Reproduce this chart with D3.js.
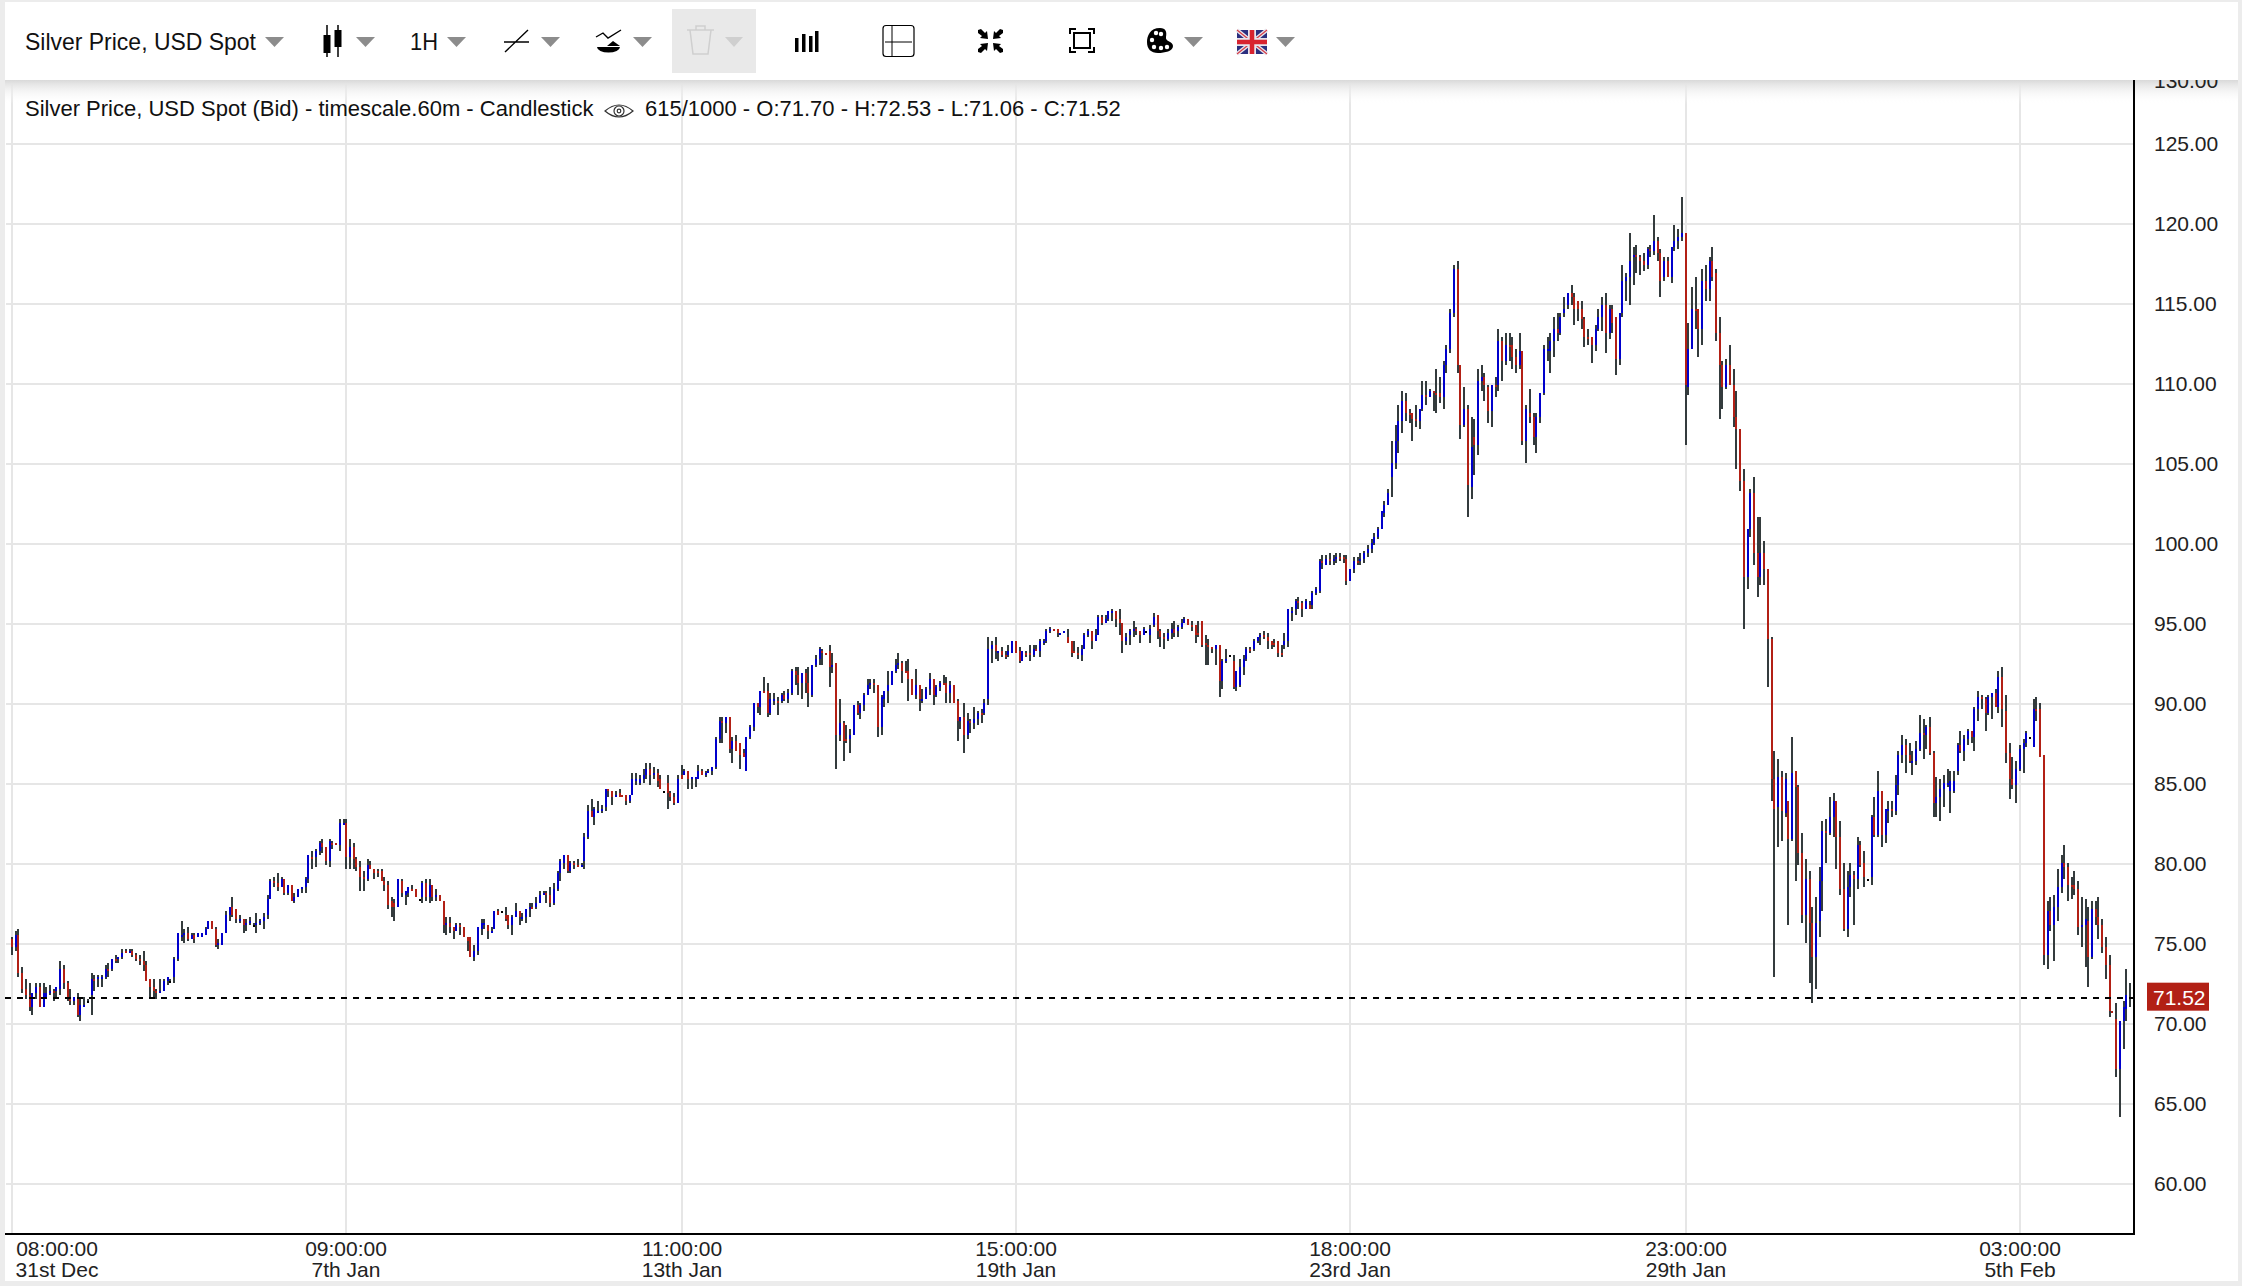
<!DOCTYPE html>
<html>
<head>
<meta charset="utf-8">
<title>Silver Price, USD Spot</title>
<script src="https://cdn.jsdelivr.net/npm/d3@7"></script>
<style>
  html, body { margin: 0; padding: 0; background: #ececec; }
  svg { display: block; font-family: "Liberation Sans", Arial, sans-serif; }
  .canvas { width: 2242px; height: 1286px; overflow: hidden; }
</style>
</head>
<body>
<div class="canvas"></div>
<script>
// prices, one entry per 60m candle
const opens = [
75.35,74.8,75.55,73.2,72.15,71.8,71.1,71.9,72.3,71.1,
71.7,71.95,72.05,72.05,72.2,73.4,72.55,71.7,71.4,71.65,
70.55,71.15,71.5,71.8,72.8,72.8,72.8,72.9,73.5,73.45,
74.05,74.05,74.2,74.6,74.45,74.55,74.3,74.05,73.9,73.7,
72.8,72.3,72.1,71.95,72.1,72.7,72.75,72.9,74.05,75.45,
75.55,75.65,75.3,75.55,75.45,75.45,75.55,75.95,76.4,75.95,
74.95,74.95,75.65,76.8,77.3,77.15,76.45,76.55,76.2,76.3,
76.25,76.2,76.3,76.4,76.8,77.85,78.9,78.8,78.55,79.05,
78.2,78.65,77.65,77.9,78.4,78.55,79.05,80.4,80.4,80.8,
81.3,81.05,80.15,81.3,81.3,81.15,82.55,82.55,80.4,81.05,
80.3,79.8,79.15,79.1,79.95,79.65,79.55,79.55,78.9,78.65,
77.65,77.55,77.35,78.9,78.05,78.15,78.45,78.4,77.85,77.9,
78.8,77.9,78.65,77.9,78.05,77.65,76.2,76.3,76.05,75.85,
76.2,76.05,75.4,75.4,74.2,74.55,75.9,76.2,76.15,75.75,
75.95,77.1,77,76.8,76.8,76.2,76.7,77.05,76.55,76.65,
77.2,77.3,77.3,77.6,78.05,78.15,78.05,77.55,78.4,79.4,
80.05,80.55,79.55,80.05,79.9,79.8,80.15,81.65,83.3,82.95,
83.2,83.3,83.6,84.65,84.55,84.2,84.4,84.35,84.3,83.9,
84.3,85.25,85.1,85.3,85.6,86,85.6,85.7,85.3,84.6,
85.1,84.45,84.2,83.85,85.5,85.6,85.8,85.35,85.33,85.33,
85.8,85.6,85.75,85.8,86.1,87.8,88.9,88.8,89.15,87.15,
87.65,87.55,86.9,85.85,87.95,88.55,90.05,89.8,90.8,90.8,
89.4,90.15,90.15,90.15,90.55,90.3,90.65,92.05,91.8,91.3,
91.9,91.3,90.55,92.4,92.85,93.35,93.15,93.35,92.35,92.55,
88.05,88.8,87.8,87.8,88.05,89.9,89.4,89.9,90.55,91.15,
91.3,91.15,88.55,90.3,90.8,91.15,92.05,92.4,92.55,92.1,
92.05,91.55,90.55,91.15,90.15,90.3,90.9,91.55,90.55,91.05,
91.3,91.3,90.65,91.15,90.15,88.9,89.15,88.05,88.9,88.8,
89.05,89.4,89.4,90.3,93.4,93.65,93.2,93.3,93.05,93.05,
93.2,93.9,93.3,92.65,93.2,93.15,93.05,93.4,93.3,93.8,
93.9,94.55,94.65,94.65,94.35,94.4,94.15,93.9,93.3,93.2,
93.05,93.4,94.3,94.55,93.9,94.3,95.4,95.05,95.3,95.7,
95.8,95.3,95.05,93.9,94.3,94.55,94.65,94.55,94.3,94.6,
94.3,94.9,95.55,94.55,94.15,94.05,94.4,94.65,94.55,94.8,
95.05,95.3,94.9,94.9,94.4,95.15,93.8,93.65,93.55,93.4,
93.65,91.4,92.65,93.1,92.65,91.05,91.15,92.3,92.8,93.4,
93.4,93.9,94.15,94.3,94.15,93.9,93.8,93.9,93.2,93.65,
93.9,95.7,95.95,96.4,96.3,95.95,96.2,96.15,97,97.1,
99,98.75,99.05,98.95,99.1,99.25,99.2,99.05,97.7,98.4,
99,98.9,99.1,99.4,99.75,100.05,100.5,100.9,102,102.5,
104.2,105,106.5,107.65,109,108.25,108.15,107.8,107.7,108.4,
109.25,109.2,109.5,109.4,109.4,109.15,111.25,112.15,114.4,117.15,
111.25,107.5,108.5,103.55,106.65,106.15,110.25,110.5,109.75,108.3,
110,110,112.65,111.4,112.5,112.4,111.65,111.15,112,106.4,
108.25,107.9,106.65,107.9,109.4,112,112,112.75,113.4,113.15,
114.4,114.9,115.65,115.4,115.15,114.75,114,113,113,112.5,
113.5,114.15,115,113.15,114.65,114.25,111.5,114.5,116.5,116.65,
117.9,118,117.9,117.75,117.4,118.4,118.25,119,118.15,116.65,
117.65,116.75,118.5,119,119.25,119.4,109.75,112.25,114.75,114.65,
113.5,116.5,115.9,117.65,116.9,113.25,111.15,109.75,111.15,110,
108,107.15,104,97.9,100.9,103.15,99.4,98,99.4,98.4,
94.05,85.3,83.6,85.4,83.15,83.9,81.55,85.8,84.8,80.65,
76.8,79.05,76.3,74.2,76.4,78.9,82.05,81.9,82.9,83.9,
81.65,78.4,75.9,78.55,79.3,79.05,81.15,80.05,79.1,79.15,
82.95,81.8,84.55,81.8,83.3,83.4,83.3,84.9,86.8,87.4,
86.8,86.4,86.5,87.15,88.15,88.05,88.55,86.9,83.8,84.2,
84.65,85,84.55,84.55,85.8,87.4,87.05,87.8,88.3,87.9,
89.65,90.4,90.3,89.4,90.4,90.65,89.8,91.65,89.55,86.9,
85.3,84.9,86,87.15,87.55,88,87.3,89.65,89.65,86.8,
74.3,77.05,76.15,77.3,78.55,80.05,79.8,78.65,78.65,78.4,
76.05,76.15,76.4,74.15,77.15,76.65,76.15,74.8,73.65,70.8,
70.3,67.15,70.15,70.9,71.7];

const highs = [
75.42,75.8,75.9,73.55,72.8,72.55,71.9,72.55,72.55,72.55,
72.3,72.4,72.15,72.3,73.9,73.65,72.65,72.15,71.65,71.9,
71.65,71.65,71.55,73.15,73.05,73.05,73.05,73.65,73.8,74.05,
74.3,74.2,74.65,74.65,74.65,74.65,74.4,74.3,74.55,73.9,
72.8,72.8,72.2,72.8,72.8,72.9,72.8,74.15,75.65,76.4,
75.9,76.05,75.65,75.65,75.7,75.7,76.05,76.4,76.4,76.05,
75.3,75.65,77.05,77.3,77.9,77.15,76.8,76.55,76.55,76.65,
76.3,76.9,76.55,76.9,78.05,79.05,79.15,79.4,79.15,79.05,
78.65,78.65,78.15,78.4,78.55,79.15,80.55,80.8,80.9,81.4,
81.55,81.05,81.55,81.4,81.3,82.8,82.8,82.8,81.55,81.3,
80.4,80.15,79.55,80.3,80.15,79.65,79.65,79.65,79.15,78.9,
77.9,77.8,79.05,79.05,78.3,78.55,78.65,78.4,77.85,78.9,
79.05,79.05,78.65,78.4,78.05,77.65,76.65,76.65,76.05,76.3,
76.3,76.05,75.4,75.4,74.9,76.05,76.55,76.55,76.15,76.05,
77.05,77.15,77,77.3,76.8,76.8,77.55,77.05,76.9,77.15,
77.55,77.55,77.9,78.3,78.3,78.3,78.55,78.8,79.55,80.3,
80.55,80.55,80.15,80.15,80.3,80.05,81.9,83.65,84.05,83.55,
83.9,83.65,84.65,84.65,84.55,84.55,84.65,84.35,84.3,84.3,
85.7,85.7,85.6,85.9,86.3,86.3,86.1,86,85.5,84.6,
85.6,84.55,84.4,85.5,86.17,85.9,85.8,85.4,85.4,86.17,
85.92,85.8,85.9,86.05,87.9,89.15,89.15,89.15,89.15,87.9,
88.05,87.55,87.15,87.9,88.65,90.05,90.05,90.8,91.65,91.3,
90.65,90.65,90.4,90.65,90.8,90.9,92.15,92.3,92.3,91.9,
92.15,92.3,92.4,93.05,93.55,93.4,93.15,93.65,93.15,92.55,
90.3,88.9,88.65,88.4,89.9,90.15,90.05,90.65,91.55,91.55,
91.55,91.15,90.55,90.8,92.05,92.05,92.8,93.15,92.65,92.65,
92.8,91.55,92.15,91.15,90.9,91.05,91.9,91.55,91.15,91.4,
91.8,91.65,91.4,91.15,90.3,89.15,90.05,89.4,89.05,89.8,
89.55,89.65,90.3,94.15,93.9,94.15,93.3,93.55,93.3,93.65,
93.9,93.9,93.55,93.3,93.3,93.65,93.65,93.65,94.05,94.05,
94.65,94.8,94.65,94.65,94.4,94.55,94.65,93.9,93.9,93.55,
93.65,94.4,94.65,94.55,94.65,95.55,95.55,95.55,95.8,95.9,
95.8,95.9,95.05,94.4,94.65,95.15,94.8,94.55,94.8,94.6,
94.9,95.65,95.55,94.65,94.4,94.65,95.05,95.15,94.9,95.3,
95.4,95.3,95.15,94.9,95.15,95.15,94.3,94.05,93.55,93.65,
93.65,92.8,93.4,93.1,93.05,92.05,92.8,93.05,93.55,93.55,
94.05,94.15,94.4,94.55,94.4,93.9,94.05,93.9,93.65,94.4,
95.9,96.05,96.55,96.65,96.4,96.55,96.4,97.1,97.3,99.1,
99.3,99.3,99.4,99.35,99.5,99.5,99.3,99.3,98.4,99.2,
99.2,99.4,99.6,99.9,100.3,100.7,101.1,102.1,102.65,103.4,
106.4,107.4,108.65,109.5,109.4,108.4,108.15,108.75,108.4,110.15,
110.15,109.65,109.5,110.9,110.4,111.4,112.5,114.65,117.4,117.75,
111.25,109.75,108.75,107.9,107.75,110.9,111.25,110.75,109.9,110,
110.5,113.5,112.9,113.15,113.15,112.9,112.15,113.15,112,108.65,
109.65,108.25,108.25,109.4,112.4,113,113.25,114.15,114.4,114.5,
115.5,115.65,116.15,115.65,115.25,115.15,114.25,113.5,113,113.65,
114.65,115.4,115.75,114.9,115,114.25,114.5,117.5,117,119.4,
118.5,118.65,118,118.15,118.5,118.65,120.5,119.25,118.4,117.9,
117.9,118.5,119.9,119.65,121.65,119.4,113.75,116,116.75,114.75,
117.25,117.4,117.9,118.5,117.15,114.25,111.4,111.5,112.5,111,
109.5,107.15,104.75,101,103.5,104.15,101.75,101.65,100.25,98.5,
94.15,87.05,86.55,85.8,85.65,83.9,87.9,85.8,84.9,81.9,
80.3,79.55,77.3,77.9,79.8,82.65,82.8,84.15,84.4,83.9,
82.65,80.05,79.55,80.05,79.55,81.65,81.4,80.8,79.1,83.05,
84.15,85.8,84.55,83.4,83.9,83.9,85.55,87.05,88.05,87.8,
87.55,87.05,87.65,89.3,89.05,88.65,89.15,87.05,85.4,85.3,
85.55,85.9,85.8,85.8,87.55,88.3,88.05,88.4,88.3,89.8,
90.8,90.55,90.4,90.55,90.65,90.9,92.05,92.3,90.55,87.55,
86.65,86.4,87.4,87.8,88.3,88,90.3,90.4,90.05,86.8,
77.65,77.9,78.05,79.65,80.55,81.15,80.05,79.15,79.55,78.9,
77.9,77.8,77.3,77.65,77.65,77.9,76.55,75.4,74.3,70.8,
71.3,70.15,71.4,73.4,72.53];

const lows = [
74.33,74.6,72.95,71.95,71.6,70.85,70.6,71.6,71.1,71.1,
71.6,71.85,71.45,71.6,71.85,72.2,71.5,71.2,71.2,70.45,
70.2,71.1,71.45,70.6,72.1,72.35,72.35,72.85,73,73.35,
73.85,73.85,74.1,74.4,74.4,74.2,73.95,73.7,73.35,72.7,
71.6,71.6,71.6,71.95,72.1,72.45,72.7,72.6,73.95,75.15,
75.1,75.2,75.3,75.1,75.4,75.4,75.55,75.9,75.95,74.85,
74.7,74.95,75.65,76.4,76.65,76.3,76.3,75.65,75.8,76.15,
76.2,75.65,76.2,75.9,76.55,77.8,78.55,78.3,78.55,78.05,
78.05,77.65,77.55,77.9,78.15,78.15,78.8,79.65,79.8,80.55,
80.65,79.9,79.85,80.95,81.15,80.8,82.45,79.7,79.7,79.7,
79.6,78.35,78.35,78.95,79.7,79.1,79.2,78.95,78.35,77.2,
76.7,76.45,77.35,77.9,77.45,77.95,78.3,77.9,77.85,77.6,
77.7,77.6,77.7,77.7,77.7,75.7,75.6,75.7,75.35,75.85,
75.6,75.45,74.6,74.2,73.95,74.35,75.6,75.95,75.35,75.7,
75.95,76.85,77,76.45,75.95,75.6,76.7,76.2,76.4,76.3,
76.7,77.2,77.2,77.55,78.05,77.55,77.3,77.45,78.35,78.9,
79.65,79.45,79.45,79.7,79.8,79.8,79.7,81.6,82.95,82.45,
83.2,83.2,83.35,84.2,83.7,84.2,84.2,84.2,83.7,83.8,
84.3,84.95,85,85.1,85.3,85,85.3,84.85,84.7,84.6,
83.45,83.95,83.7,83.85,85.33,85.6,84.7,84.7,84.85,85.33,
85.58,85.45,85.65,85.6,85.95,87.6,87.6,88.15,86.9,86.35,
87.05,85.95,86.7,85.85,87.85,88.3,89.4,89.3,90.65,89.15,
89.3,89.9,89.3,90.05,90.15,90.05,90.55,91.15,90.55,90.3,
90.65,89.8,90.4,92.3,92.4,92.4,93.05,91.05,91.95,85.95,
87.7,86.45,87.6,86.95,88.05,89.3,89.05,89.6,90.55,90.9,
90.65,87.95,88.05,89.8,90.05,91.15,91.9,92.15,91.3,91.9,
90.15,90.55,90.3,89.55,90.05,90.3,90.55,89.9,90.4,90.8,
91.15,90.05,90.05,90.05,87.65,88.4,86.9,87.8,88.15,88.4,
88.65,88.8,89.3,89.9,92.55,92.8,92.65,92.9,92.8,92.9,
93.2,93.2,92.55,92.65,92.9,92.65,92.9,93.3,92.9,93.65,
93.85,94.5,94.55,94.15,94.35,94.4,93.8,92.9,93.15,92.8,
92.65,93.4,94.15,93.4,93.9,94.3,94.9,95.05,95.15,95.15,
94.8,94.3,93.15,93.65,93.65,94.15,94.3,93.8,94.3,94.6,
93.8,94.8,94.05,93.55,93.4,93.9,94.05,94.15,94.15,94.65,
95.05,94.9,94.55,93.8,94.15,93.55,92.4,92.4,93.2,92.4,
90.4,90.9,92.55,93.1,90.9,90.8,91.05,91.8,92.65,93.15,
93.3,93.8,93.65,94.05,93.4,93.4,93.55,92.9,92.9,93.4,
93.55,95.15,95.55,95.95,95.45,95.95,95.95,95.95,96.8,96.9,
98.5,98.7,98.75,98.75,98.85,98.95,98.85,97.45,97.7,98.2,
98.7,98.75,98.8,99.2,99.5,99.9,100.3,100.9,101.7,102.45,
102.95,104.7,105.7,106.95,107.7,107.55,106.45,107.3,107.2,108.3,
108.65,109.2,108.3,108.15,108.8,108.5,110.7,111.95,114.2,110.7,
106.55,107.3,101.7,102.8,104.3,105.55,109.55,108.95,107.55,107.3,
109.2,109.55,110.2,111.15,111.4,110.95,110.7,111,106.2,105.05,
107.55,106.2,105.7,107.55,109.3,111.45,110.7,111.75,112.7,113.05,
114.25,114.75,115,113.65,113.9,113.5,112.3,112.5,111.3,112,
113.3,113.3,111.95,112.8,113.15,110.55,111.2,114.2,115.2,114.95,
116.2,116.95,116.8,117.05,117.2,117.9,118,117.65,115.4,116.4,
116.65,116.25,118.25,118.4,118.9,106.25,109.3,112.25,113.5,111.65,
112.4,115.15,115.15,116.5,112.65,107.75,108.5,109.65,109.9,107.25,
104.65,103.25,94.7,97.25,100.4,98.65,96.65,97.5,97.5,91.1,
83.95,72.95,81.1,81.4,82.95,76.15,81.4,78.9,79.9,76.3,
75.05,72.55,71.3,72.15,75.4,77.05,80.05,81.8,81.65,79.65,
78.05,75.85,75.4,77.9,76.15,78.4,79.8,78.55,79.1,78.65,
81.7,81.7,81.05,81.3,82.55,82.9,83.05,84.3,86.3,85.65,
86.3,85.55,86.15,87.05,86.55,87.15,86.8,82.95,82.95,82.7,
83.6,84.8,83.15,84.5,85.55,86.9,86.4,87.4,87.55,87.05,
88.9,89.65,88.3,89.3,89.05,89.8,89.4,88.55,86.3,84.05,
84.65,83.8,85.8,85.65,87.3,88,87.3,88.9,86.65,73.65,
73.4,75.8,73.9,76.4,78.15,79.05,77.65,77.8,78.05,75.55,
74.8,73.55,72.3,74.05,76.15,75.3,74.4,72.8,70.4,70.7,
66.65,64.15,68.4,70.15,71.06];

const closes = [
74.8,75.55,73.15,72.2,71.85,71.1,71.9,72.3,71.1,71.9,
71.9,72.1,71.9,72.3,73.4,72.55,71.7,71.4,71.65,70.6,
71.15,71.2,71.5,72.8,72.7,72.9,72.95,73.4,73.4,74.05,
73.9,74.15,74.5,74.45,74.6,74.3,74.1,73.9,73.65,72.7,
72.3,72.05,71.95,72.1,72.7,72.9,72.75,74.05,75.65,75.6,
75.65,75.3,75.55,75.35,75.65,75.65,75.9,76.4,75.95,74.95,
75.05,75.65,76.8,77.3,76.8,76.55,76.55,76.15,76.3,76.4,
76.25,76.3,76.4,76.65,77.8,78.9,78.8,78.55,79.05,78.2,
78.65,77.65,77.9,78.4,78.55,79.05,80.55,80.3,80.8,81.3,
81.05,80.15,81.4,81.15,81.15,82.55,82.6,80.4,81.05,80.3,
79.8,79.15,79.05,79.9,79.7,79.45,79.4,78.95,78.65,77.4,
77.35,77.35,79.05,78.15,78.3,78.55,78.35,77.9,77.85,78.8,
77.9,78.65,77.9,78.05,77.7,76.2,76.3,76.05,75.85,76.15,
76.1,75.45,75.2,74.2,74.55,76.05,76.3,76.3,75.85,75.85,
77.05,76.85,77,76.55,76.2,76.65,77.05,76.65,76.65,77.15,
77.35,77.2,77.55,78.05,78.15,78.05,77.55,78.4,79.4,80.15,
80.55,79.55,80.05,79.9,79.8,79.9,81.65,83.35,82.95,83.4,
83.3,83.4,84.65,84.55,84.2,84.3,84.2,84.2,83.9,84.3,
85.25,85.35,85.3,85.6,86,85.6,85.7,85.2,84.7,84.6,
84.4,84.2,83.85,85.3,85.33,85.85,85.33,85.4,85.4,85.85,
85.6,85.75,85.85,86.05,87.8,88.9,88.8,89.15,87.15,87.65,
87.1,86.8,86.75,87.9,88.55,90.05,89.8,90.8,90.7,89.4,
90.3,90.3,90.05,90.55,90.3,90.65,92.05,91.8,91.3,91.9,
91.3,90.65,92.4,92.85,93.4,93.2,93.05,92.3,92.4,88.05,
88.8,87.7,87.65,88.05,89.9,89.4,89.9,90.55,91.15,91.3,
91.15,88.55,90.4,90.8,91.15,92.05,92.45,92.55,92.05,91.9,
91.55,90.55,91.15,90.3,90.3,90.9,91.55,90.55,91.05,91.3,
91.15,90.65,91.15,90.05,88.9,89.15,88.05,88.9,88.8,89.05,
89.4,89.3,90.05,93.4,93.65,93.3,93.3,93.05,92.9,93.3,
93.9,93.2,92.65,93.3,93.1,93.05,93.4,93.3,93.9,93.9,
94.55,94.65,94.55,94.4,94.4,94.55,93.8,93.15,93.15,93.05,
93.4,94.3,94.55,93.9,94.3,95.4,95.05,95.3,95.8,95.8,
95.3,95.05,93.9,94.15,94.55,94.65,94.55,94.3,94.65,94.6,
94.65,95.4,94.55,94.15,94.05,94.4,94.65,94.4,94.8,95.05,
95.3,94.9,94.8,94.3,94.3,93.65,93.65,93.55,93.4,93.65,
91.4,92.65,92.8,93.1,91.05,92.05,92.3,92.8,93.4,93.3,
93.9,94.15,94.3,94.15,93.9,93.65,93.65,93.15,93.05,93.9,
95.9,95.8,96.4,96.3,95.9,96.4,95.95,97,97.15,99,
98.8,99.05,98.95,99.1,99.25,99.15,99.05,97.7,98.4,99,
98.9,99.1,99.4,99.75,100.05,100.5,100.9,102.1,102.5,103.15,
105,106.5,107.65,109,108.25,108.15,107.75,107.7,108.4,109.25,
109.15,109.5,109.4,109.25,109.15,111.25,112.15,114.4,117.15,111.25,
107.5,108.5,103.65,106.05,106.15,110.25,110.5,109.9,108.3,110,
109.9,112.65,111.4,112.5,112.4,111.65,111.15,112,106.5,108.4,
107.9,106.65,107.9,109.4,112.15,112.15,112.75,113.4,113.15,114.25,
114.75,115.65,115.4,114.75,114.75,114,113,112.9,112.5,113.5,
114.15,115,113.15,114.65,113.75,111.5,114.5,116.5,116.65,117.75,
118,117.9,117.75,117.4,118.4,118.25,119,118.15,116.5,117.65,
116.75,118.5,119,119.25,119.4,109.9,112.25,114.75,114.65,113.5,
116.5,115.9,117.65,116.75,113.25,111.15,109.75,111.15,110,108,
107.15,104,97.9,100.9,103.15,99.4,98,99.4,98.4,94.05,
85.3,83.45,85.4,83.3,85.3,81.55,85.65,84.8,80.65,76.8,
79.05,76.3,74.2,76.3,78.9,82.05,81.9,82.9,83.9,81.65,
78.4,75.9,78.55,79.3,79.05,81.15,79.9,79.15,79.1,82.95,
81.8,84.55,81.8,83.4,83.4,83.3,84.9,86.8,87.4,86.8,
86.4,86.5,87.15,88.15,88.05,88.55,86.9,83.8,84.2,84.65,
85.05,85.05,85.15,85.15,87.4,87.05,87.8,88.3,87.9,89.65,
90.4,90.3,89.4,90.4,90.65,89.8,91.65,89.65,86.9,85.3,
84.9,86,87.15,87.55,88.15,88,89.65,89.55,86.65,74.3,
77.05,76.15,77.3,78.55,80.05,79.8,78.65,78.55,78.4,76.05,
76.15,76.55,74.15,77.15,76.65,76.15,74.8,73.65,70.8,70.7,
67.15,70.15,71.05,71.8,71.52];

const priceTicks = [60,65,70,75,80,85,90,95,100,105,110,115,120,125,130];
const timeTickIndex = [0,97,194,291,388,485,582];
const timeLabels = ['08:00:00','09:00:00','11:00:00','15:00:00','18:00:00','23:00:00','03:00:00'];
const dateLabels = ['31st Dec','7th Jan','13th Jan','19th Jan','23rd Jan','29th Jan','5th Feb'];

const titleText = 'Silver Price, USD Spot';
const legendText = 'Silver Price, USD Spot (Bid) - timescale.60m - Candlestick';
const legendValues = '615/1000 - O:71.70 - H:72.53 - L:71.06 - C:71.52';

if (highs.length !== opens.length || lows.length !== opens.length || closes.length !== opens.length) {
  throw new Error(`array lengths ${opens.length} ${highs.length} ${lows.length} ${closes.length}`);
}

const candles = d3.range(opens.length).map(i => ({
  i, open: opens[i], high: highs[i], low: lows[i], close: closes[i]
}));

const dims = { width: 2242, height: 1286, left: 5, right: 2134, top: 80, bottom: 1234 };
const colours = { up: '#0000cc', down: '#b22015', wick: '#343b3d', grid: '#e6e6e6', caret: '#8c8c8c' };

const x = d3.scaleLinear().domain([0, opens.length - 1]).range([12, 2130]);
const y = d3.scaleLinear().domain([60, 130]).range([1184, 64]);

// chart is painted on a 2px device grid
const snapX = v => Math.round(v / 2) * 2;
const snapY = v => 2 * Math.round((v + 1) / 2) - 1;

const svg = d3.select('.canvas')
  .append('svg')
  .attr('width', dims.width)
  .attr('height', dims.height);

svg.append('rect')
  .attr('x', dims.left).attr('y', 2)
  .attr('width', 2238 - dims.left).attr('height', 1281 - 2)
  .attr('fill', '#fff');

// grid
const grid = svg.append('g').attr('shape-rendering', 'crispEdges');
grid.selectAll('.h').data(priceTicks).enter().append('rect')
  .attr('x', dims.left + 1).attr('y', d => Math.round(y(d)) - 1)
  .attr('width', dims.right - dims.left - 1).attr('height', 2)
  .attr('fill', colours.grid);
grid.selectAll('.v').data(timeTickIndex).enter().append('rect')
  .attr('x', d => snapX(x(d)) - 1).attr('y', dims.top)
  .attr('width', 2).attr('height', dims.bottom - dims.top)
  .attr('fill', colours.grid);

// candles: wick first then body on the same column
const bars = svg.append('g').attr('shape-rendering', 'crispEdges');
const candle = bars.selectAll('g').data(candles).enter().append('g');

candle.filter(d => d.high > Math.max(d.open, d.close) || d.low < Math.min(d.open, d.close))
  .append('rect')
  .attr('x', d => snapX(x(d.i)) - 1)
  .attr('y', d => snapY(y(d.high)))
  .attr('width', 2)
  .attr('height', d => Math.max(2, snapY(y(d.low)) - snapY(y(d.high))))
  .attr('fill', colours.wick);

candle.append('rect')
  .attr('x', d => snapX(x(d.i)) - 1)
  .attr('y', d => snapY(y(Math.max(d.open, d.close))))
  .attr('width', 2)
  .attr('height', d => Math.max(2, snapY(y(Math.min(d.open, d.close))) - snapY(y(Math.max(d.open, d.close)))))
  .attr('fill', d => d.close > d.open ? colours.up : d.close < d.open ? colours.down : '#000');

// last price line and tag
const lastClose = closes[closes.length - 1];
const lastY = y(lastClose) - 2;
svg.append('line')
  .attr('x1', dims.left).attr('x2', dims.right)
  .attr('y1', lastY).attr('y2', lastY)
  .attr('stroke', '#000').attr('stroke-width', 2)
  .attr('stroke-dasharray', '6,6')
  .attr('shape-rendering', 'crispEdges');

// shadow under the toolbar, axis labels go over it
const defs = svg.append('defs');
const shadow = defs.append('linearGradient').attr('id', 'barShadow').attr('x1', 0).attr('x2', 0).attr('y1', 0).attr('y2', 1);
shadow.append('stop').attr('offset', 0).attr('stop-color', '#d9d9d9');
shadow.append('stop').attr('offset', 0.15).attr('stop-color', '#e4e4e4');
shadow.append('stop').attr('offset', 1).attr('stop-color', '#fff').attr('stop-opacity', 0);

svg.append('rect').attr('x', dims.left).attr('y', 80).attr('width', 2233).attr('height', 24).attr('fill', 'url(#barShadow)');

// axes
const yAxis = d3.axisRight(y)
  .tickValues(priceTicks)
  .tickFormat(d3.format('.2f'))
  .tickSize(0)
  .tickPadding(20);

const yAxisG = svg.append('g')
  .attr('transform', `translate(${dims.right}, 0)`)
  .call(yAxis)
  .call(g => g.select('.domain').remove());

yAxisG.selectAll('text')
  .attr('dy', '0.29em')
  .attr('fill', '#222')
  .attr('font-size', 21)
  .attr('font-family', '"Liberation Sans", Arial, sans-serif');

// top label is held just inside the plot, half under the toolbar
yAxisG.selectAll('.tick')
  .filter(d => d === 130)
  .attr('transform', 'translate(0, 82)');

svg.append('rect')
  .attr('x', 2147).attr('y', lastY - 15)
  .attr('width', 62).attr('height', 28)
  .attr('fill', colours.down);
svg.append('text')
  .attr('x', 2153).attr('y', lastY + 7)
  .attr('fill', '#fff').attr('font-size', 21)
  .text(d3.format('.2f')(lastClose));

const xAxisG = svg.append('g').attr('transform', `translate(0, ${dims.bottom})`);
const labelX = d => Math.max(57, snapX(x(d)));
xAxisG.selectAll('.time').data(timeTickIndex).enter().append('text')
  .attr('x', labelX).attr('y', 22)
  .attr('text-anchor', 'middle').attr('font-size', 21).attr('fill', '#222')
  .text((d, i) => timeLabels[i]);
xAxisG.selectAll('.date').data(timeTickIndex).enter().append('text')
  .attr('x', labelX).attr('y', 42.5)
  .attr('text-anchor', 'middle').attr('font-size', 21).attr('fill', '#222')
  .text((d, i) => dateLabels[i]);

// axis frame
svg.append('rect').attr('x', dims.right - 1).attr('y', dims.top).attr('width', 2)
  .attr('height', dims.bottom - dims.top + 1).attr('fill', '#000');
svg.append('rect').attr('x', dims.left).attr('y', dims.bottom - 1).attr('width', dims.right - dims.left + 1)
  .attr('height', 2).attr('fill', '#000');

// legend row
svg.append('text').attr('x', 25).attr('y', 116).attr('font-size', 22).attr('fill', '#111')
  .text(legendText);
svg.append('text').attr('x', 645).attr('y', 116).attr('font-size', 22).attr('fill', '#111')
  .text(legendValues);

const eye = svg.append('g').attr('transform', 'translate(619, 111)').attr('fill', 'none').attr('stroke', '#333').attr('stroke-width', 1.2);
eye.append('path').attr('d', 'M-14,0 Q0,-12 14,0 Q0,12 -14,0 Z');
eye.append('circle').attr('r', 5);
eye.append('circle').attr('r', 1.8);

// toolbar
svg.append('rect').attr('x', dims.left).attr('y', 2).attr('width', 2233).attr('height', 78).attr('fill', '#fff');
svg.append('rect').attr('x', 672).attr('y', 9).attr('width', 84).attr('height', 64).attr('fill', '#e9e9e9');

svg.append('text').attr('x', 25).attr('y', 50).attr('font-size', 24).attr('fill', '#111')
  .attr('textLength', 231).attr('lengthAdjust', 'spacingAndGlyphs').text(titleText);
svg.append('text').attr('x', 410).attr('y', 50).attr('font-size', 24).attr('fill', '#111')
  .attr('textLength', 28).attr('lengthAdjust', 'spacingAndGlyphs').text('1H');

const caretXs = [265, 356, 447, 541, 633, 1184, 1276];
svg.selectAll('.caret').data(caretXs).enter().append('path')
  .attr('d', d => `M${d},37 L${d + 19},37 L${d + 9.5},47 Z`)
  .attr('fill', colours.caret);
svg.append('path').attr('d', 'M725,37 L743,37 L734,47 Z').attr('fill', '#cfcfcf');

const icons = svg.append('g');
// candlestick icon
icons.append('path').attr('stroke', '#000').attr('stroke-width', 1.5).attr('d', 'M327,25 V57 M338,25 V57');
icons.append('rect').attr('x', 323.5).attr('y', 35).attr('width', 7).attr('height', 18);
icons.append('rect').attr('x', 334.5).attr('y', 30).attr('width', 7).attr('height', 17);
// line tool
icons.append('path').attr('stroke', '#000').attr('stroke-width', 1.4).attr('fill', 'none').attr('d', 'M505,52 L528,30 M504,42 H529');
// indicators
icons.append('path').attr('stroke', '#000').attr('stroke-width', 1.4).attr('fill', 'none').attr('d', 'M596,37 L603,33 L608,38 L621,30');
icons.append('path').attr('d', 'M607,46 L613,41 L620,46 Z');
icons.append('path').attr('d', 'M597,47 H620 A11.5,5.5 0 0 1 597,47 Z');
// trash, greyed out
icons.append('path').attr('stroke', '#cfcfcf').attr('stroke-width', 1.5).attr('fill', 'none').attr('d', 'M687,30 H714 M690,30 L693,54 H708 L711,30 M696,30 V26 H705 V30');
// volume bars
icons.selectAll('.vol').data([[795, 38], [802, 34], [809, 36], [815, 31]]).enter().append('rect')
  .attr('x', d => d[0]).attr('y', d => d[1]).attr('width', 3.5).attr('height', d => 52 - d[1]);
// crosshair
icons.append('rect').attr('x', 883).attr('y', 25.5).attr('width', 31).attr('height', 31).attr('rx', 3).attr('fill', 'none').attr('stroke', '#000').attr('stroke-width', 1.2);
icons.append('path').attr('stroke', '#000').attr('stroke-width', 1).attr('d', 'M892,26 V56 M885,42 H912');
// shrink arrows
icons.append('path').attr('d', 'M978,30 L981,29 L985,33 L987,31 L988,39 L980,38 L982,36 L978,33 Z M1003,30 L1000,29 L996,33 L994,31 L993,39 L1001,38 L999,36 L1003,33 Z M978,52 L981,53 L985,49 L987,51 L988,43 L980,44 L982,46 L978,49 Z M1003,52 L1000,53 L996,49 L994,51 L993,43 L1001,44 L999,46 L1003,49 Z');
// fullscreen frame
icons.append('path').attr('fill', 'none').attr('stroke', '#000').attr('stroke-width', 2).attr('d', 'M1070,34 V29 H1076 M1088,29 H1094 V34 M1094,47 V52 H1088 M1076,52 H1070 V47');
icons.append('rect').attr('x', 1074).attr('y', 33).attr('width', 16).attr('height', 15).attr('fill', 'none').attr('stroke', '#000').attr('stroke-width', 2);
// palette
icons.append('path').attr('d', 'M1160,28 C1150,28 1147,36 1147,42 C1147,49 1151,53 1158,53 C1165,53 1173,51 1173,46 C1173,41 1165,42 1166,37 C1167,32 1166,28 1160,28 Z');
icons.selectAll('.dot').data([[1156, 33], [1152, 40], [1154, 47], [1161, 48], [1167, 47], [1161, 34]]).enter().append('circle')
  .attr('cx', d => d[0]).attr('cy', d => d[1]).attr('r', 2.2).attr('fill', '#fff');
// language flag
const flag = icons.append('g');
flag.append('rect').attr('x', 1237).attr('y', 30).attr('width', 30).attr('height', 24).attr('fill', '#2b2f7f');
flag.append('path').attr('stroke', '#e6e6ee').attr('stroke-width', 4).attr('d', 'M1237,30 L1267,54 M1267,30 L1237,54');
flag.append('path').attr('stroke', '#d63a45').attr('stroke-width', 1.2).attr('d', 'M1237,30 L1267,54 M1267,30 L1237,54');
flag.append('path').attr('stroke', '#e6e6ee').attr('stroke-width', 8).attr('d', 'M1252,30 V54 M1237,42 H1267');
flag.append('path').attr('stroke', '#d8232f').attr('stroke-width', 4.5).attr('d', 'M1252,30 V54 M1237,42 H1267');
</script>
</body>
</html>
